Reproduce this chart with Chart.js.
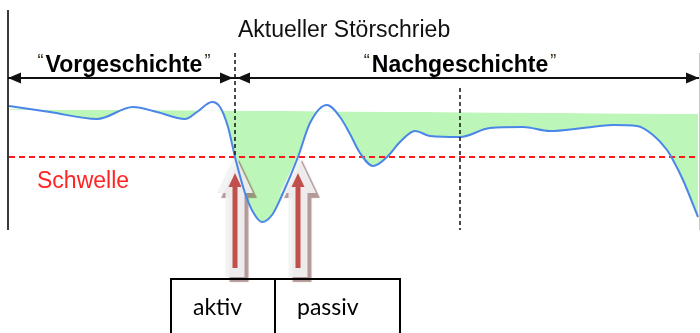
<!DOCTYPE html>
<html lang="de">
<head>
<meta charset="utf-8">
<title>Aktueller Störschrieb</title>
<script src="https://cdn.jsdelivr.net/npm/chart.js@4.4.1/dist/chart.umd.min.js"></script>
<style>
  html, body { margin: 0; padding: 0; background: #fff; }
  #wrap { position: relative; width: 700px; height: 333px; }
</style>
</head>
<body>
<div id="wrap"><canvas id="chart"></canvas></div>
<script>
// Zeit in ms, Signal relativ zur Schwelle (0 = Schwelle)
const sampleTimes  = [0, 41, 88, 124, 148, 176, 188, 203, 211, 219, 226, 236, 244, 253, 263, 274, 289, 301, 318, 331,
                      341, 351, 364, 378, 391, 406, 421, 451, 481, 514, 541, 574, 604, 628, 644, 658, 664, 674, 689];
const signalValues = [51, 45, 38, 50, 45, 38, 45, 55, 50, 30, 0, -36, -55, -65, -58, -36, 0, 34, 52, 40,
                      23, 4, -9, 0, 15, 26, 21, 20, 29, 30, 26, 29, 32, 31, 22, 7, -3, -23, -60];

// Obergrenze der Flaeche (Nennwert) und Schwelle
const nominalTimes  = [0, 690];
const nominalValues = [48, 43];
const thresholdTimes  = [0, 690];
const thresholdValues = [0, 0];

// Ausloesezeitpunkte und Abschnitte
const triggerTimes  = [226, 289];
const triggerLabels = ['aktiv', 'passiv'];
const markerTimes   = [226, 451];
const sectionBounds = [0, 226, 690];
const sectionLabels = ['Vorgeschichte', 'Nachgeschichte'];
const titleText     = 'Aktueller Störschrieb';
const thresholdText = 'Schwelle';

const toXY = (xs, ys) => xs.map((x, i) => ({ x, y: ys[i] }));

function arrowHead(ctx, x, y, dir) {
  ctx.beginPath();
  ctx.moveTo(x, y);
  ctx.lineTo(x - dir * 13, y - 5.5);
  ctx.lineTo(x - dir * 13, y + 5.5);
  ctx.closePath();
  ctx.fill();
}

function upArrow(ctx, cx, tipY, headW, headH, shaftW, bottom) {
  ctx.beginPath();
  ctx.moveTo(cx, tipY);
  ctx.lineTo(cx + headW, tipY + headH);
  ctx.lineTo(cx + shaftW, tipY + headH);
  ctx.lineTo(cx + shaftW, bottom);
  ctx.lineTo(cx - shaftW, bottom);
  ctx.lineTo(cx - shaftW, tipY + headH);
  ctx.lineTo(cx - headW, tipY + headH);
  ctx.closePath();
  ctx.fill();
}

// fetter Titel mit kleinen Anfuehrungszeichen
function quotedLabel(ctx, text, cx, y) {
  ctx.font = 'bold 23px "Liberation Sans", Arial, sans-serif';
  const w = ctx.measureText(text).width;
  ctx.textAlign = 'left';
  ctx.fillStyle = '#000';
  ctx.fillText(text, cx - w / 2, y);
  ctx.font = '18px "Liberation Sans", Arial, sans-serif';
  ctx.fillStyle = '#3a2a10';
  ctx.textAlign = 'right';
  ctx.fillText('\u201C', cx - w / 2 - 2, y - 5);
  ctx.textAlign = 'left';
  ctx.fillText('\u201D', cx + w / 2 + 2, y - 5);
}

const overlay = {
  id: 'overlay',
  // Pfeile liegen ueber der Flaeche, aber unter den Linien
  beforeDatasetsDraw(chart) {
    const ctx = chart.ctx;
    const xs = chart.scales.x, ys = chart.scales.y;
    const yTh = ys.getPixelForValue(0);
    ctx.save();
    triggerTimes.forEach(t => {
      const cx = xs.getPixelForValue(t);
      ctx.save();
      ctx.shadowColor = 'rgba(120,70,70,0.6)';
      ctx.shadowOffsetX = 4;
      ctx.shadowOffsetY = 5;
      ctx.shadowBlur = 1;
      ctx.fillStyle = 'rgba(242,242,242,0.92)';
      upArrow(ctx, cx, yTh - 2, 18, 38, 9.5, 277);
      ctx.restore();
      ctx.fillStyle = '#c0504d';
      upArrow(ctx, cx, yTh + 16, 6.5, 14, 2.5, 268);
    });
    ctx.restore();
  },
  afterDraw(chart) {
    const ctx = chart.ctx;
    const xs = chart.scales.x, ys = chart.scales.y;
    const area = chart.chartArea;
    const yTh = ys.getPixelForValue(0);
    ctx.save();

    // y-Achse und rechter Rand
    ctx.strokeStyle = '#3a3a3a';
    ctx.lineWidth = 2;
    ctx.beginPath();
    ctx.moveTo(area.left - 1, area.top);
    ctx.lineTo(area.left - 1, area.bottom);
    ctx.stroke();
    ctx.strokeStyle = '#c8c8c8';
    ctx.lineWidth = 1;
    ctx.beginPath();
    ctx.moveTo(area.right + 0.5, 53);
    ctx.lineTo(area.right + 0.5, area.bottom);
    ctx.stroke();

    // gestrichelte Marker
    ctx.strokeStyle = '#111';
    ctx.lineWidth = 1.5;
    ctx.setLineDash([4, 3]);
    const m0 = xs.getPixelForValue(markerTimes[0]);
    ctx.beginPath();
    ctx.moveTo(m0, 53);
    ctx.lineTo(m0, yTh - 2);
    ctx.stroke();
    const m1 = xs.getPixelForValue(markerTimes[1]);
    ctx.beginPath();
    ctx.moveTo(m1, 88);
    ctx.lineTo(m1, area.bottom);
    ctx.stroke();
    ctx.setLineDash([]);

    // Abschnittspfeile
    const yA = 78;
    ctx.strokeStyle = '#111';
    ctx.fillStyle = '#111';
    ctx.lineWidth = 2;
    const s0 = xs.getPixelForValue(sectionBounds[0]) - 1;
    const s1 = xs.getPixelForValue(sectionBounds[1]);
    const s2 = xs.getPixelForValue(sectionBounds[2]);
    ctx.beginPath();
    ctx.moveTo(s0, yA);
    ctx.lineTo(s2, yA);
    ctx.stroke();
    arrowHead(ctx, s0, yA, -1);
    arrowHead(ctx, s1 - 2, yA, 1);
    arrowHead(ctx, s1 + 2, yA, -1);
    arrowHead(ctx, s2, yA, 1);

    // Texte
    ctx.textBaseline = 'alphabetic';
    ctx.fillStyle = '#111';
    ctx.font = '23px "Liberation Sans", Arial, sans-serif';
    ctx.textAlign = 'left';
    ctx.fillText(titleText, s1 + 3, 37);

    quotedLabel(ctx, sectionLabels[0], 124, 72);
    quotedLabel(ctx, sectionLabels[1], 460, 72);

    ctx.font = '23px "Liberation Sans", Arial, sans-serif';
    ctx.textAlign = 'left';
    ctx.fillStyle = '#ff2424';
    ctx.fillText(thresholdText, 37, 188);

    // Tabelle unter den Pfeilen
    const t0 = xs.getPixelForValue(triggerTimes[0]);
    const t1 = xs.getPixelForValue(triggerTimes[1]);
    const cells = [t0 - 64, t0 + 40, t1 + 102];
    ctx.strokeStyle = '#000';
    ctx.lineWidth = 2;
    ctx.strokeRect(cells[0], 279, cells[2] - cells[0], 70);
    ctx.beginPath();
    ctx.moveTo(cells[1], 279);
    ctx.lineTo(cells[1], 340);
    ctx.stroke();
    ctx.fillStyle = '#000';
    ctx.font = '23px Lato, "Open Sans", sans-serif';
    ctx.fillText(triggerLabels[0], cells[0] + 22, 315);
    ctx.fillText(triggerLabels[1], cells[1] + 22, 315);

    ctx.restore();
  }
};

new Chart(document.getElementById('chart'), {
  type: 'line',
  data: {
    datasets: [
      {
        data: toXY(sampleTimes, signalValues),
        borderColor: '#4a86e8',
        borderWidth: 2,
        pointRadius: 0,
        cubicInterpolationMode: 'monotone',
        fill: { target: 1, above: 'rgba(0,0,0,0)', below: 'rgb(188,246,184)' },
        order: 0
      },
      {
        data: toXY(nominalTimes, nominalValues),
        borderColor: 'rgba(0,0,0,0)',
        borderWidth: 0,
        pointRadius: 0,
        fill: false,
        order: 3
      },
      {
        data: toXY(thresholdTimes, thresholdValues),
        borderColor: '#ff1a1a',
        borderWidth: 2,
        borderDash: [6, 4],
        pointRadius: 0,
        fill: false,
        order: 1
      }
    ]
  },
  options: {
    responsive: true,
    maintainAspectRatio: false,
    animation: false,
    events: [],
    layout: { padding: { left: 9, right: 1, top: 10, bottom: 103 } },
    scales: {
      x: { type: 'linear', min: 0, max: 690, display: false },
      y: { min: -73, max: 147, display: false }
    },
    plugins: {
      legend: { display: false },
      tooltip: { enabled: false },
      filler: { drawTime: 'beforeDatasetsDraw' }
    }
  },
  plugins: [overlay]
});
</script>
</body>
</html>
